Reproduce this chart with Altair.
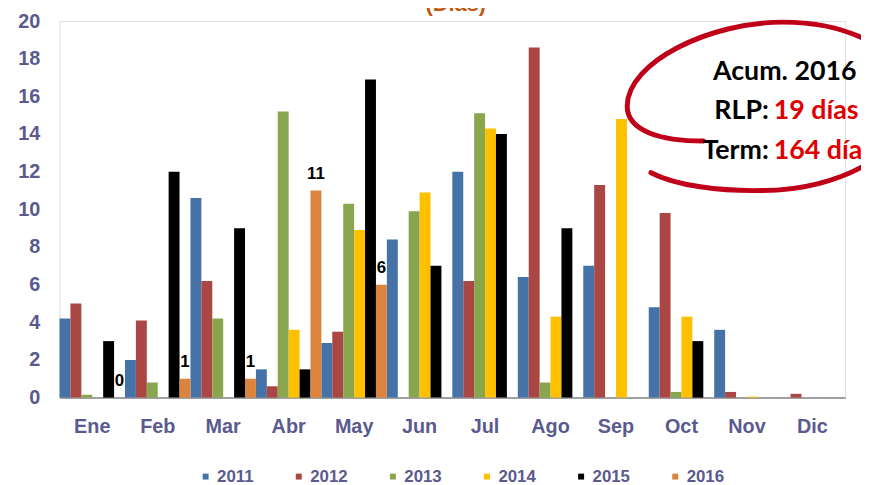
import altair as alt
import pandas as pd

months = ["Ene", "Feb", "Mar", "Abr", "May", "Jun", "Jul", "Ago", "Sep", "Oct", "Nov", "Dic"]
years = ["2011", "2012", "2013", "2014", "2015", "2016"]
colors = ["#4572A7", "#AA4643", "#89A54E", "#FFC000", "#000000", "#DB843D"]

v2011 = [4.2, 2.0, 10.6, 1.5, 2.9, 8.4, 12.0, 6.4, 7.0, 4.8, 3.6, 0.0]
v2012 = [5.0, 4.1, 6.2, 0.6, 3.5, 0.0, 6.2, 18.6, 11.3, 9.8, 0.3, 0.2]
v2013 = [0.15, 0.8, 4.2, 15.2, 10.3, 9.9, 15.1, 0.8, 0.0, 0.3, 0.0, 0.0]
v2014 = [0.0, 0.0, 0.0, 3.6, 8.9, 10.9, 14.3, 4.3, 14.8, 4.3, 0.05, 0.0]
v2015 = [3.0, 12.0, 9.0, 1.5, 16.9, 7.0, 14.0, 9.0, 0.0, 3.0, 0.0, 0.0]
v2016 = [0, 1, 1, 11, 6, None, None, None, None, None, None, None]

title_text = "(Días)"
note_head = "Acum. 2016"
note_keys = ["RLP:", "Term:"]
note_vals = ["19 días", "164 días"]

AXIS_COLOR = "#5A5A8E"
FONT = "Liberation Sans"

series = [v2011, v2012, v2013, v2014, v2015, v2016]
rows = []
for y, vals in zip(years, series):
    for m, v in zip(months, vals):
        rows.append({"month": m, "year": y, "value": v})
df = pd.DataFrame(rows)

x_enc = alt.X("month:N", sort=months, title=None,
              scale=alt.Scale(paddingInner=0, paddingOuter=0),
              axis=alt.Axis(labelAngle=0, labelFontSize=20, labelFont=FONT,
                            labelFontWeight="bold", labelColor=AXIS_COLOR,
                            ticks=False, labelPadding=19, domainColor="#A0A0A0",
                            domainWidth=2))
xo_enc = alt.XOffset("year:N", sort=years,
                     scale=alt.Scale(paddingInner=0, paddingOuter=0))
y_enc = alt.Y("value:Q", title=None,
              scale=alt.Scale(domain=[0, 20], nice=False),
              axis=alt.Axis(values=list(range(0, 21, 2)), grid=False, ticks=False,
                            domain=False, labelFontSize=20, labelFont=FONT,
                            labelFontWeight="bold", labelColor=AXIS_COLOR,
                            labelPadding=20, labelOverlap=False))

bars = alt.Chart(df).mark_bar(width={"band": 1}).encode(
    x=x_enc,
    xOffset=xo_enc,
    y=y_enc,
    color=alt.Color("year:N", sort=years,
                    scale=alt.Scale(domain=years, range=colors),
                    legend=alt.Legend(orient="none", legendX=139, legendY=451,
                                      direction="horizontal", columns=6, title=None,
                                      symbolType="square", symbolSize=36,
                                      symbolStrokeWidth=0, labelFontSize=17,
                                      labelFont=FONT, labelFontWeight="bold",
                                      labelColor=AXIS_COLOR, columnPadding=37,
                                      labelOffset=3, padding=0)),
)

labels = alt.Chart(df).transform_filter(
    "datum.year == '2016' && isValid(datum.value)"
).mark_text(fontSize=17, fontWeight="bold", font=FONT, color="#000000",
            baseline="alphabetic", dy=-12).encode(
    x=alt.X("month:N", sort=months),
    xOffset=alt.XOffset("year:N", sort=years),
    y=y_enc,
    text=alt.Text("value:Q", format="d"),
)

def note(text, x, y, color, align, size=27, font="Lato", weight="bold"):
    return alt.Chart(pd.DataFrame({"t": [text]})).mark_text(
        fontSize=size, fontWeight=weight, font=font, color=color,
        align=align, baseline="alphabetic"
    ).encode(x=alt.value(x), y=alt.value(y), text="t:N")

title_layer = note(title_text, 400, -10, "#C0590F", "center", size=22, font=FONT)

ellipse_path = ("M -120 67 C -95 80 -50 86 -7 85 C 70 85 144 45 144 -5 "
                "C 144 -55 80 -85 13 -85 C -60 -85 -144 -45 -144 0 "
                "C -144 25 -110 35 -67 35")
ellipse = alt.Chart(pd.DataFrame({"k": [0]})).mark_point(
    shape=ellipse_path, size=4, filled=False, stroke="#C00018",
    strokeWidth=5, opacity=1, strokeCap="round", strokeJoin="round"
).encode(x=alt.value(717), y=alt.value(86))

head = note(note_head, 732, 59, "#000000", "center")
key1 = note(note_keys[0], 716, 99, "#000000", "right")
val1 = note(note_vals[0], 721, 99, "#E00000", "left")
key2 = note(note_keys[1], 716, 139, "#000000", "right")
val2 = note(note_vals[1], 721, 139, "#E00000", "left")

chart = alt.layer(bars, labels, title_layer, ellipse, head, key1, val1, key2, val2).properties(
    width=793, height=380,
    autosize=alt.AutoSizeParams(type="none"),
    padding={"left": 52, "top": 11, "right": 16, "bottom": 86},
).configure_view(stroke="#A0A0A0", strokeWidth=2).configure(background="white")

chart.save("out.html", embed_options={"renderer": "svg", "actions": False})
